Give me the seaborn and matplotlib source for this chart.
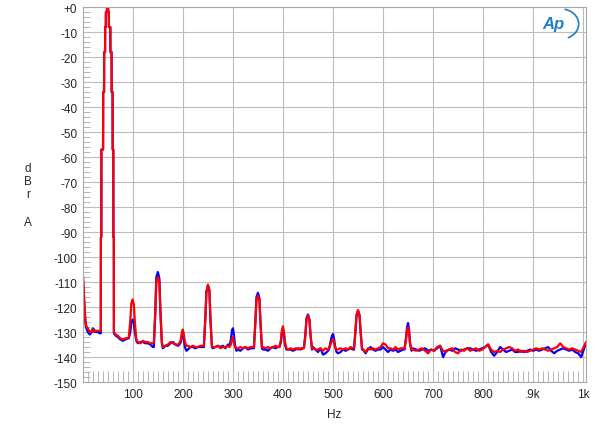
import numpy as np
import pandas as pd
import matplotlib.pyplot as plt
import seaborn as sns
from matplotlib.patches import Arc

# spectrum, Hz
freq = [0, 2, 4, 6, 8, 10, 14, 18, 20, 22, 26, 30, 34,
        36, 36.2, 37, 37.2, 40.5, 40.7, 42.5, 42.7, 44.5, 44.7, 46, 46.2, 48, 48.5,
        50.5, 51, 52, 52.2, 55, 55.2, 57.5, 57.7, 59.5, 59.7, 61, 61.2, 62, 62.2,
        66, 70, 75, 80, 85, 90, 92, 95, 97, 99.5, 102, 104, 107,
        110, 115, 120, 125, 130, 135, 140, 142, 145, 147, 150, 153, 155, 158,
        160, 165, 170, 175, 180, 185, 190, 193, 196, 198, 200, 202, 204, 207,
        210, 215, 220, 225, 230, 235, 240, 242, 245, 247, 250, 253, 255, 258,
        260, 265, 270, 275, 280, 285, 290, 293, 296, 298, 300, 302, 304, 307,
        310, 315, 320, 325, 330, 335, 340, 342, 345, 347, 350, 353, 355, 358,
        360, 365, 370, 375, 380, 385, 390, 393, 396, 398, 400, 402, 404, 407,
        410, 415, 420, 425, 430, 435, 440, 442, 445, 447, 450, 453, 455, 458,
        460, 465, 470, 475, 480, 485, 490, 492, 496, 498, 500, 502, 504, 507,
        510, 515, 520, 525, 530, 535, 540, 542, 545, 547, 550, 553, 555, 558,
        560, 565, 570, 575, 580, 585, 590, 595, 600, 605, 610, 615, 620, 625,
        630, 635, 640, 643, 646, 648, 650, 652, 654, 657,
        660, 666, 672, 678, 684, 690, 696, 702, 708, 714, 720, 726, 732, 738,
        744, 750, 756, 762, 768, 774, 780, 786, 792, 798, 804, 810, 816, 822,
        828, 834, 840, 846, 852, 858, 864, 870, 876, 882, 888, 894, 900, 906,
        912, 918, 924, 930, 936, 942, 948, 954, 960, 966, 972, 978, 984, 990,
        996, 1002, 1006]

# right channel (red), dBr
red_db = [-106, -114, -122, -127, -128, -128.5, -130, -129.5, -129, -130, -129.5, -129.5, -129.5,
          -129.5, -92, -92, -57, -57, -34, -34, -18, -18, -8, -8, -2, -2, 0,
          0, -2, -2, -8, -8, -18, -18, -34, -34, -57, -57, -92, -92, -130,
          -131, -131.5, -132.5, -133, -132.5, -132.5, -132, -125, -118.5, -117, -119, -126, -133,
          -134, -134.5, -133.5, -134, -134, -134.5, -134.5, -134, -122, -110, -108, -110, -122, -134,
          -136, -135.5, -135, -134, -134.5, -135, -135, -134.5, -133, -130, -129, -131, -134, -135.5,
          -135.5, -136, -135.5, -136, -136, -135.5, -135.5, -135.5, -124, -114, -111, -113, -124, -135.5,
          -136, -136, -135.5, -136.5, -136, -136, -135.5, -136, -135, -133, -132, -134, -136, -136.5,
          -136.5, -136, -136.5, -136, -136.5, -136, -136, -136, -126, -117.5, -115.5, -117.5, -126, -136,
          -136, -136.5, -136, -136.5, -136, -135.5, -136, -136, -133, -129, -127.7, -130, -134, -136.5,
          -137, -136.5, -137, -136.5, -137, -136.5, -136.5, -136.5, -131, -125, -123.5, -125.5, -131, -136.5,
          -136.5, -137, -137, -136.5, -137.5, -136.5, -137, -136.5, -134.5, -133.5, -132.8, -134, -136, -137,
          -137, -136.5, -137, -136.5, -137, -136, -136.5, -136.5, -129, -123, -121.2, -123, -129, -136.5,
          -137, -138, -136.5, -137, -136.5, -137, -136.5, -136, -134.5, -135, -136.5, -136.5, -137, -136,
          -137, -136.5, -136.5, -136.5, -133, -129.5, -128, -130, -135, -137,
          -137, -137.5, -137, -136.5, -137.5, -138.5, -137, -137.5, -136, -135.5, -137.5, -138, -137, -136.5,
          -138, -138.5, -137, -137.5, -136.5, -137.5, -137, -136.5, -137.5, -137, -136, -135, -137, -138,
          -137.5, -138, -137, -136.5, -136, -136.5, -137.5, -137, -138, -137.5, -138, -137.5, -137, -136.5,
          -137, -136.5, -137, -137.5, -137, -136.5, -136, -134.5, -136, -136.5, -137, -136.5, -137, -137.5,
          -138, -135.5, -134]

# left channel (blue), dBr
blue_db = [-107, -115, -123, -127.5, -129, -130, -131, -130, -128.5, -129, -130, -130, -130.5,
           -130.5, -92, -92, -57, -57, -34, -34, -18, -18, -8, -8, -2, -2, 0,
           0, -2, -2, -8, -8, -18, -18, -34, -34, -57, -57, -92, -92, -130.5,
           -131.5, -132, -133, -133.5, -133, -132.5, -132.5, -130, -126, -125, -126.5, -130, -133.5,
           -134.5, -134, -134, -134.5, -134.5, -135, -136, -136, -121, -108, -106, -108.5, -121, -134.5,
           -136.5, -135.5, -135.5, -134.5, -134, -135, -135.5, -135, -134, -131.5, -130, -133, -136, -137.5,
           -137, -136, -136, -136.5, -136, -136, -136, -136, -124, -114, -111.5, -113.5, -125, -136,
           -136.5, -136, -135.5, -136, -135.5, -136.5, -135, -135.5, -133, -129.5, -128.5, -131, -135, -137.5,
           -137, -137.5, -136.5, -136, -137, -136.5, -136.5, -136.5, -125, -116, -114.3, -116.5, -126, -136.5,
           -137, -137, -137.5, -136.5, -136, -136.5, -136, -136, -134, -130, -129, -131, -135, -137,
           -137, -137, -137.5, -137, -136.5, -137, -136.5, -136, -130.5, -124.5, -123, -125, -131, -137,
           -136, -137, -138, -136.5, -139, -138.5, -137.5, -137, -133, -131.5, -130.8, -132.5, -135.5, -138,
           -138.5, -138, -137, -137.5, -137, -136.5, -137, -137, -129.5, -123.5, -121.5, -123.5, -129.5, -137,
           -137, -138.5, -137, -136, -137, -137.5, -137, -137, -136, -137, -138, -137, -137.5, -137,
           -138, -137.5, -137, -137, -132, -128, -126.4, -129, -134.5, -137.5,
           -136.5, -137, -137.5, -137, -136.5, -137.5, -137, -137.5, -136.5, -135.5, -140, -137.5, -137, -137.5,
           -136.5, -137, -137.5, -137, -136.5, -136.5, -137, -137.5, -137, -136.5, -136, -135, -138, -139.5,
           -138, -136, -137, -138, -137.5, -137, -138, -138, -137.5, -138, -137.5, -137, -137.5, -137,
           -137.5, -137, -136.5, -136, -137.5, -138.5, -137.5, -137, -136.5, -137, -137.5, -137, -138, -138.5,
           -140, -136.5, -134]

x_ticks = [100, 200, 300, 400, 500, 600, 700, 800, 900, 1000]
x_tick_labels = ['100', '200', '300', '400', '500', '600', '700', '800', '.9k', '1k']
y_ticks = list(range(0, -151, -10))
y_tick_labels = ['+0'] + [str(v) for v in y_ticks[1:]]

sns.set_style('white')
plt.rcParams['font.family'] = ['Liberation Sans', 'DejaVu Sans']

n = len(freq)
df = pd.DataFrame({'Hz': freq * 2,
                   'dB': blue_db + red_db,
                   'ch': ['left'] * n + ['right'] * n})

fig, ax = plt.subplots(figsize=(6, 4.27), dpi=100)
fig.subplots_adjust(left=0.138, right=0.977, top=0.981, bottom=0.103)

sns.lineplot(data=df, x='Hz', y='dB', hue='ch', hue_order=['left', 'right'],
             palette={'left': '#0000ff', 'right': '#ff0000'},
             estimator=None, sort=False, legend=False, lw=1.6, ax=ax)

ax.set_xlim(0, 1006)
ax.set_ylim(-150, 0)
ax.set_xticks(x_ticks)
ax.set_xticklabels(x_tick_labels)
ax.set_yticks(y_ticks)
ax.set_yticklabels(y_tick_labels)
ax.set_xticks(np.arange(10, 1006, 10), minor=True)
ax.set_yticks(np.arange(-148, 0, 2), minor=True)

ax.grid(True, which='major', color='#bcbcbc', lw=0.8)
ax.tick_params(which='both', bottom=True, left=True, top=False, right=False)
ax.tick_params(which='major', length=0, labelsize=8.5, pad=4)
ax.tick_params(axis='x', which='minor', direction='in', length=8, color='#b4b4b4', width=0.7)
ax.tick_params(axis='y', which='minor', direction='in', length=5, color='#b4b4b4', width=0.7)
for s in ax.spines.values():
    s.set_color('#a8a8a8')
    s.set_linewidth(0.8)

ax.set_xlabel('Hz', fontsize=8.5)
ax.xaxis.set_label_coords(0.5, -0.07)
ax.set_ylabel('')
for letter, ypix in zip(['d', 'B', 'r', 'A'], [169, 182, 195, 223]):
    fig.text(28 / 600, 1 - ypix / 427, letter, fontsize=8.5, ha='center', va='center')

# Ap logo
ax.text(0.935, 0.955, 'Ap', transform=ax.transAxes, fontsize=12, fontstyle='italic',
        color='#1f7fc4', ha='center', va='center', fontweight='bold')
ax.add_patch(Arc((0.95, 0.955), 0.07, 0.08, theta1=-70, theta2=80,
                 transform=ax.transAxes, color='#1f7fc4', lw=1.2))

plt.savefig('out.png', dpi=100)
